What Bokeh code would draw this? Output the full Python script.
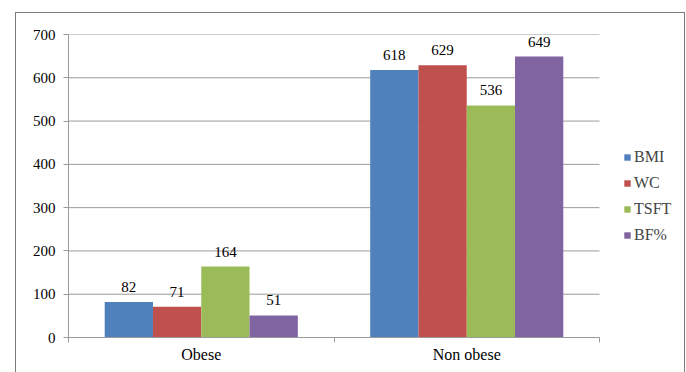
from bokeh.plotting import figure
from bokeh.models import (ColumnDataSource, Range1d, FixedTicker, LabelSet, Legend,
                          LegendItem, InlineStyleSheet)
from bokeh.embed import file_html
from bokeh.resources import INLINE

categories = ["Obese", "Non obese"]
series = ["BMI", "WC", "TSFT", "BF%"]
bmi = [82, 618]
wc = [71, 629]
tsft = [164, 536]
bf = [51, 649]
values = [bmi, wc, tsft, bf]
colors = ["#4F81BD", "#C0504D", "#9BBB59", "#8064A2"]
y_ticks = [0, 100, 200, 300, 400, 500, 600, 700]

FONT = "Liberation Serif"
GRAY = "#9a9a9a"

# plot area spans x 68..599 px; the frame extends to 684 px to host the legend
n = len(categories)
x_end = n * (684 - 68) / (599 - 68)

p = figure(width=686, height=372, output_backend="svg", toolbar_location=None,
           x_range=Range1d(0, x_end), y_range=Range1d(0, 700),
           min_border_left=68, min_border_right=2, min_border_top=34, min_border_bottom=35)
p.outline_line_color = None
p.background_fill_color = "white"
p.border_fill_color = "white"
p.xgrid.grid_line_color = None
p.ygrid.grid_line_color = None

# horizontal gridlines over the category extent only
p.segment(x0=[0] * len(y_ticks), x1=[n] * len(y_ticks), y0=y_ticks, y1=y_ticks,
          line_color=GRAY, line_width=1)

bar_w = 2.0 / 11.0
centers = [i + 0.5 for i in range(n)]

items = []
lx, ly, lt = [], [], []
for k, (name, vals, col) in enumerate(zip(series, values, colors)):
    off = (k - (len(series) - 1) / 2.0) * bar_w
    xs = [c + off for c in centers]
    src = ColumnDataSource(dict(x=xs, top=vals))
    r = p.vbar(x="x", top="top", width=bar_w, source=src, fill_color=col, line_color=None)
    items.append(LegendItem(label=name, renderers=[r]))
    lx += xs
    ly += vals
    lt += [str(v) for v in vals]

lab_src = ColumnDataSource(dict(x=lx, y=ly, t=lt))
labels = LabelSet(x="x", y="y", text="t", source=lab_src, text_align="center",
                  text_baseline="bottom", y_offset=10, text_font=FONT,
                  text_font_size="15px", text_color="black")
p.add_layout(labels)

# x axis
p.xaxis.bounds = (0, n)
p.xaxis.ticker = FixedTicker(ticks=centers, minor_ticks=list(range(n + 1)))
p.xaxis.major_label_overrides = {c: name for c, name in zip(centers, categories)}
p.xaxis.major_tick_out = 0
p.xaxis.major_tick_in = 0
p.xaxis.minor_tick_out = 5
p.xaxis.minor_tick_in = 0
p.xaxis.major_label_standoff = 3
p.xaxis.axis_line_color = GRAY
p.xaxis.minor_tick_line_color = GRAY
p.xaxis.major_label_text_font = FONT
p.xaxis.major_label_text_font_size = "16px"
p.xaxis.major_label_text_color = "black"

# y axis
p.yaxis.ticker = FixedTicker(ticks=y_ticks)
p.yaxis.major_tick_out = 5
p.yaxis.major_tick_in = 0
p.yaxis.minor_tick_line_color = None
p.yaxis.axis_line_color = GRAY
p.yaxis.major_tick_line_color = GRAY
p.yaxis.major_label_standoff = 8
p.yaxis.major_label_text_font = FONT
p.yaxis.major_label_text_font_size = "15px"
p.yaxis.major_label_text_color = "black"

legend = Legend(items=items, location=(555, 92), orientation="vertical",
                label_text_font=FONT, label_text_font_size="16px",
                glyph_width=8, glyph_height=8, label_height=20, spacing=6,
                label_standoff=3, padding=0, margin=0,
                border_line_color=None, background_fill_alpha=0)
p.add_layout(legend, "center")

p.stylesheets = [InlineStyleSheet(css="""
:host { position: relative; }
:host::after {
  content: ""; position: absolute; left: 15px; top: 12px; right: 1px; bottom: 0px;
  border: 1.5px solid #7a7a7a; border-bottom: none; pointer-events: none;
}
""")]

open("out.html", "w").write(file_html(p, INLINE))
